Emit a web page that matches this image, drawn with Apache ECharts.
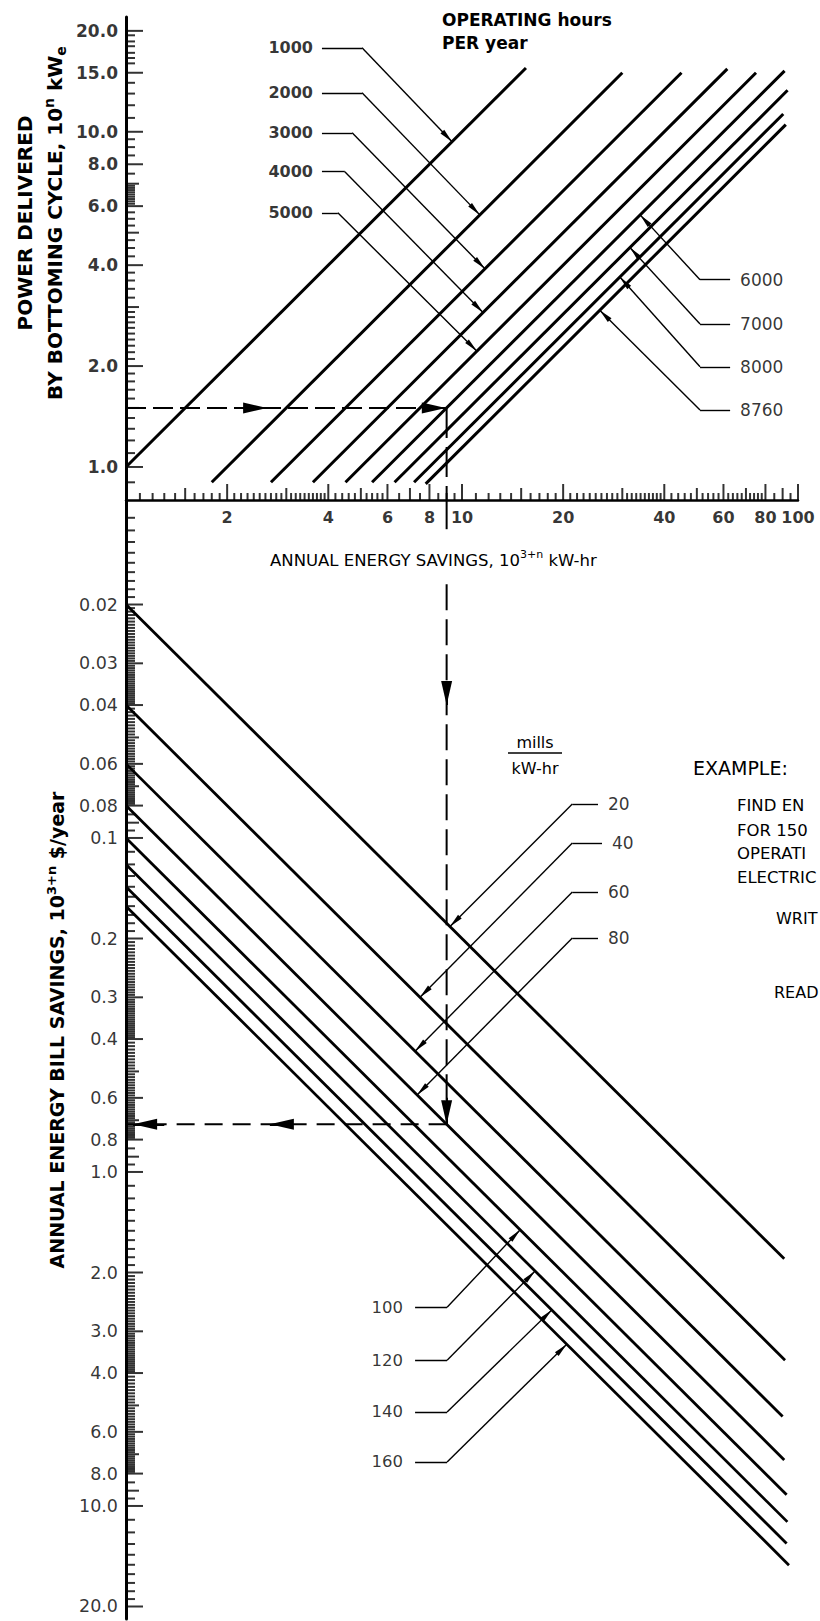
<!DOCTYPE html>
<html>
<head>
<meta charset="utf-8">
<title>Bottoming cycle energy savings nomogram</title>
<script src="https://cdn.jsdelivr.net/npm/echarts@6.0.0/dist/echarts.min.js"></script>
<style>
  html, body { margin: 0; padding: 0; background: #fff; }
  #chart { width: 820px; height: 1621px; }
</style>
</head>
<body>
<div id="chart"></div>
<script>
// Operating-hours lines: annual energy (10^(3+n) kW-hr) = power (10^n kWe) x hours / 1000
const hoursPerYear = [1000, 2000, 3000, 4000, 5000, 6000, 7000, 8000, 8760];
const powerFrom = [1.0, 0.9, 0.9, 0.9, 0.9, 0.9, 0.9, 0.9, 0.89];
const powerTo = [15.5, 15.0, 15.0, 15.4, 15.0, 15.2, 13.3, 11.3, 10.5];

// Electricity-rate lines: bill savings (10^(3+n) $/yr) = energy x mills / 1000
const millsPerKwh = [20, 40, 60, 80, 100, 120, 140, 160];
const energyFrom = [1, 1, 1, 1, 1, 1, 1, 1];
const energyTo = [91, 91.5, 90, 91, 92.5, 93, 92.5, 94];

// Worked example: 150 kWe, 6000 h/yr, 80 mills/kW-hr
const examplePower = 1.5;
const exampleHours = 6000;
const exampleRate = 80;

// Scale ranges
const energyRange = [1, 100];
const powerRange = [0.797, 22.0];
const billRange = [0.00973, 21.8];

// Labelled ticks
const powerTickValues = [1, 2, 4, 6, 8, 10, 15, 20];
const powerTickLabels = ['1.0', '2.0', '4.0', '6.0', '8.0', '10.0', '15.0', '20.0'];
const powerMidTicks = [1.5, 3, 5, 7];

const energyTickValues = [2, 4, 6, 8, 10, 20, 40, 60, 80, 100];
const energyTickLabels = ['2', '4', '6', '8', '10', '20', '40', '60', '80', '100'];
const energyMidTicks = [1.5, 3, 5, 7, 15, 30, 50, 70, 90];

const billTickValues = [0.02, 0.03, 0.04, 0.06, 0.08, 0.1, 0.2, 0.3, 0.4, 0.6, 0.8, 1, 2, 3, 4, 6, 8, 10, 20];
const billTickLabels = ['0.02', '0.03', '0.04', '0.06', '0.08', '0.1', '0.2', '0.3', '0.4', '0.6', '0.8', '1.0', '2.0', '3.0', '4.0', '6.0', '8.0', '10.0', '20.0'];
const billMidTicks = [0.05, 0.07, 0.09, 0.5, 0.7, 0.9, 5, 7, 9];

// ---------------------------------------------------------------------------
function stepsBetween(from, to, step) {
  const out = [];
  for (let v = from + step; v < to - step / 2; v += step) out.push(+v.toPrecision(6));
  return out;
}
function without(values, exclude) {
  return values.filter(v => !exclude.some(e => Math.abs(e - v) < e * 1e-6));
}

// unlabelled graduations of the three scales
const powerMinorTicks = without([].concat(
  [0.9], stepsBetween(1, 2, 0.1), stepsBetween(2, 3, 0.1), stepsBetween(3, 4, 0.2),
  stepsBetween(4, 6, 0.25), stepsBetween(6, 7, 0.1), [7.5], stepsBetween(8, 10, 0.5),
  stepsBetween(10, 15, 1), [16, 16.6, 17.2, 18, 18.6, 19.4]
), powerTickValues.concat(powerMidTicks));

const energyMinorTicks = without([].concat(
  stepsBetween(1, 2, 0.1), stepsBetween(2, 4, 0.1), stepsBetween(4, 6, 0.2), stepsBetween(6, 10, 0.5),
  stepsBetween(10, 20, 1), stepsBetween(20, 40, 1), stepsBetween(40, 60, 2), stepsBetween(60, 80, 2),
  stepsBetween(80, 100, 5)
), energyTickValues.concat(energyMidTicks));

const billDecadeMantissas = [].concat(
  stepsBetween(1, 2, 0.1), stepsBetween(2, 4, 0.05), stepsBetween(4, 6, 0.1), stepsBetween(6, 8, 0.1), [8.5, 9.5]);
const billMinorTicks = without(
  [0.01, 0.1, 1, 10]
    .flatMap(d => billDecadeMantissas.map(m => +(m * d).toPrecision(6)))
    .filter(v => v > billRange[0] && v < 20),
  billTickValues.concat(billMidTicks));

// Callout leaders: stub from the label end to an elbow, then an arrow to the line
const hoursCallouts = [
  { from: 3.83, elbow: 5.04, level: 17.8, hit: 9.34 },
  { from: 3.83, elbow: 5.04, level: 13.07, hit: 11.3 },
  { from: 3.83, elbow: 4.71, level: 9.93, hit: 11.7 },
  { from: 3.83, elbow: 4.48, level: 7.6, hit: 11.55 },
  { from: 3.83, elbow: 4.27, level: 5.73, hit: 11.08 },
  { from: 62.8, elbow: 51.1, level: 3.62, hit: 33.9 },
  { from: 62.8, elbow: 51.1, level: 2.67, hit: 31.6 },
  { from: 62.8, elbow: 51.1, level: 1.99, hit: 29.5 },
  { from: 62.8, elbow: 51.1, level: 1.48, hit: 25.7 }
];
const rateCallouts = [
  { from: 25.4, elbow: 21.3, level: 0.0791, hit: 9.21 },
  { from: 26.1, elbow: 21.3, level: 0.1035, hit: 7.5 },
  { from: 25.4, elbow: 21.3, level: 0.1451, hit: 7.25 },
  { from: 25.4, elbow: 21.3, level: 0.1993, hit: 7.35 },
  { from: 7.25, elbow: 9.03, level: 2.54, hit: 14.9 },
  { from: 7.25, elbow: 9.03, level: 3.66, hit: 16.5 },
  { from: 7.25, elbow: 9.03, level: 5.23, hit: 18.5 },
  { from: 7.25, elbow: 9.03, level: 7.38, hit: 20.5 }
];

// ---------------------------------------------------------------------------
const INK = '#000';
const FONT = 'DejaVu Sans';
const TICK_W = 2;
// narrow arrowheads whose tip sits at the centre of the symbol box
const ARROW = 'path://M0,0M28,28M14,14L16.6,28L11.4,28Z';
const BIG_ARROW = 'path://M0,0M48,48M24,24L29.5,48L18.5,48Z';

const energyOf = (p, h) => p * h / 1000;
const billOf = (e, r) => e * r / 1000;

function tickMarks(xi, yi, points, size, offset) {
  return {
    type: 'scatter', xAxisIndex: xi, yAxisIndex: yi, silent: true, clip: false, z: 4,
    symbol: 'rect', symbolSize: size, symbolOffset: offset,
    itemStyle: { color: INK }, data: points
  };
}
function textMarks(xi, yi, points, texts, position, distance, font) {
  return {
    type: 'scatter', xAxisIndex: xi, yAxisIndex: yi, silent: true, clip: false, z: 5,
    symbol: 'rect', symbolSize: 0.01, itemStyle: { color: 'rgba(0,0,0,0)' },
    data: points.map((p, i) => ({ value: p, label: { formatter: texts[i] } })),
    label: Object.assign({ show: true, position: position, distance: distance, color: INK, fontFamily: FONT }, font)
  };
}
function yTicks(yi, values, len) {
  return tickMarks(yi, yi, values.map(v => [energyRange[0], v]), [len, TICK_W], [len / 2, 0]);
}
function xTicks(values, len) {
  return tickMarks(0, 0, values.map(v => [v, powerRange[0]]), [TICK_W, len], [0, -len / 2]);
}
function plainLine(xi, yi, data, width, dash) {
  return {
    type: 'line', xAxisIndex: xi, yAxisIndex: yi, data: data, symbol: 'none', showSymbol: false,
    clip: false, silent: true, z: 2,
    lineStyle: { color: INK, width: width, type: dash || 'solid', cap: 'butt' }
  };
}
function segments(xi, yi, list, width, endSymbol, endSize) {
  return {
    type: 'lines', coordinateSystem: 'cartesian2d', xAxisIndex: xi, yAxisIndex: yi,
    silent: true, clip: false, z: 3,
    symbol: ['none', endSymbol || 'none'], symbolSize: endSize || 10,
    lineStyle: { color: INK, width: width, opacity: 1, curveness: 0 },
    data: list.map(c => ({ coords: c }))
  };
}

const series = [];

// operating-hours lines (upper panel)
hoursPerYear.forEach((h, i) => {
  series.push(plainLine(0, 0, [powerFrom[i], powerTo[i]].map(p => [energyOf(p, h), p]), 3));
});
// electricity-rate lines (lower panel)
millsPerKwh.forEach((r, i) => {
  series.push(plainLine(1, 1, [energyFrom[i], energyTo[i]].map(e => [e, billOf(e, r)]), 2.8));
});

// scale graduations
series.push(yTicks(0, powerTickValues, 17), yTicks(0, powerMidTicks, 13), yTicks(0, powerMinorTicks, 9));
series.push(xTicks(energyTickValues, 16), xTicks(energyMidTicks, 12), xTicks(energyMinorTicks, 7));
series.push(yTicks(1, billTickValues, 17), yTicks(1, billMidTicks, 13), yTicks(1, billMinorTicks, 9));

// scale numbers
series.push(textMarks(0, 0, powerTickValues.map(v => [energyRange[0], v]), powerTickLabels, 'left', 8,
  { fontWeight: 'bold', fontSize: 17 }));
series.push(textMarks(0, 0, energyTickValues.map(v => [v, powerRange[0]]), energyTickLabels, 'bottom', 9,
  { fontWeight: 'bold', fontSize: 16 }));
series.push(textMarks(1, 1, billTickValues.map(v => [energyRange[0], v]), billTickLabels, 'left', 8,
  { fontWeight: 'normal', fontSize: 17.5 }));

// hours callouts
series.push(segments(0, 0, hoursCallouts.map(c => [[c.from, c.level], [c.elbow, c.level]]), 1.4));
series.push(segments(0, 0, hoursCallouts.map((c, i) => [[c.elbow, c.level], [c.hit, c.hit * 1000 / hoursPerYear[i]]]),
  1.4, ARROW, 28));
series.push(textMarks(0, 0, hoursCallouts.slice(0, 5).map(c => [c.from, c.level]),
  hoursPerYear.slice(0, 5).map(String), 'left', 9, { fontWeight: 'bold', fontSize: 16 }));
series.push(textMarks(0, 0, hoursCallouts.slice(5).map(c => [c.from, c.level]),
  hoursPerYear.slice(5).map(String), 'right', 10, { fontWeight: 'normal', fontSize: 17 }));

// rate callouts
series.push(segments(1, 1, rateCallouts.map(c => [[c.from, c.level], [c.elbow, c.level]]), 1.4));
series.push(segments(1, 1, rateCallouts.map((c, i) => [[c.elbow, c.level], [c.hit, billOf(c.hit, millsPerKwh[i])]]),
  1.4, ARROW, 28));
series.push(textMarks(1, 1, rateCallouts.slice(0, 4).map(c => [c.from, c.level]),
  millsPerKwh.slice(0, 4).map(String), 'right', 10, { fontWeight: 'normal', fontSize: 17 }));
series.push(textMarks(1, 1, rateCallouts.slice(4).map(c => [c.from, c.level]),
  millsPerKwh.slice(4).map(String), 'left', 12, { fontWeight: 'normal', fontSize: 16.5 }));

// worked example path
const exEnergy = energyOf(examplePower, exampleHours);
const exBill = billOf(exEnergy, exampleRate);
series.push(plainLine(0, 0, [[energyRange[0], examplePower], [exEnergy, examplePower]], 2, [20, 7]));
series.push(plainLine(0, 0, [[exEnergy, examplePower], [exEnergy, powerRange[0]]], 2, [30, 9]));
series.push(plainLine(1, 1, [[exEnergy, billRange[0]], [exEnergy, 0.0119]], 2));
series.push(plainLine(1, 1, [[exEnergy, 0.0174], [exEnergy, exBill]], 2, [26, 9]));
series.push(plainLine(1, 1, [[exEnergy, exBill], [energyRange[0], exBill]], 2, [18, 10]));
series.push(segments(0, 0, [
  [[2.3, examplePower], [2.63, examplePower]],
  [[8.0, examplePower], [8.95, examplePower]]
], 2, BIG_ARROW, 48));
series.push(segments(1, 1, [
  [[exEnergy, 0.034], [exEnergy, 0.04]],
  [[exEnergy, 0.6], [exEnergy, exBill]],
  [[3.0, exBill], [2.68, exBill]],
  [[1.3, exBill], [1.05, exBill]]
], 2, BIG_ARROW, 48));

// ---------------------------------------------------------------------------
function text(x, y, content, style, rotation) {
  return {
    type: 'text', x: x, y: y, rotation: rotation || 0, silent: true, z: 10,
    style: Object.assign({
      text: content, fill: INK, align: 'left', verticalAlign: 'middle',
      textAlign: 'left', textVerticalAlign: 'middle',
      fontFamily: FONT, fontSize: 18, fontWeight: 'normal'
    }, style)
  };
}
function titleRich(size, weight) {
  return {
    m: { fontFamily: FONT, fontSize: size, fontWeight: weight, lineHeight: size + 6 },
    up: { fontFamily: FONT, fontSize: Math.round(size * 0.68), fontWeight: weight, verticalAlign: 'top' },
    dn: { fontFamily: FONT, fontSize: Math.round(size * 0.68), fontWeight: weight, verticalAlign: 'bottom' }
  };
}
const centred = { align: 'center', textAlign: 'center' };

const graphic = [
  text(25, 223, 'POWER DELIVERED', Object.assign({ fontSize: 20, fontWeight: 'bold' }, centred), Math.PI / 2),
  text(55, 223, '{m|BY BOTTOMING CYCLE, 10}{up|n}{m| kW}{dn|e}',
    Object.assign({ rich: titleRich(20, 'bold') }, centred), Math.PI / 2),
  text(57, 1030, '{m|ANNUAL ENERGY BILL SAVINGS, 10}{up|3+n}{m| $/year}',
    Object.assign({ rich: titleRich(19, 'bold') }, centred), Math.PI / 2),
  text(270, 560, '{m|ANNUAL ENERGY SAVINGS, 10}{up|3+n}{m| kW-hr}', { rich: titleRich(16.5, 'normal') }),
  text(442, 20, 'OPERATING hours', { fontSize: 17, fontWeight: 'bold' }),
  text(442, 43, 'PER year', { fontSize: 17, fontWeight: 'bold' }),
  text(535, 742, 'mills', Object.assign({ fontSize: 16 }, centred)),
  text(535, 768, 'kW-hr', Object.assign({ fontSize: 16 }, centred)),
  { type: 'line', silent: true, shape: { x1: 508, y1: 753, x2: 562, y2: 753 }, style: { stroke: INK, lineWidth: 1.5 } },
  text(693, 768, 'EXAMPLE:', { fontSize: 19 }),
  text(737, 805, 'FIND EN', { fontSize: 16.5 }),
  text(737, 830, 'FOR 150', { fontSize: 16.5 }),
  text(737, 853, 'OPERATI', { fontSize: 16.5 }),
  text(737, 877, 'ELECTRIC', { fontSize: 16.5 }),
  text(776, 918, 'WRIT', { fontSize: 16 }),
  text(774, 992, 'READ', { fontSize: 16 })
];

// ---------------------------------------------------------------------------
const hiddenAxisParts = {
  axisTick: { show: false }, axisLabel: { show: false }, splitLine: { show: false },
  minorTick: { show: false }, minorSplitLine: { show: false }
};
const chart = echarts.init(document.getElementById('chart'), null, { renderer: 'svg' });
chart.setOption({
  animation: false,
  backgroundColor: '#fff',
  textStyle: { fontFamily: FONT },
  grid: [
    { left: 126, top: 17, width: 672, height: 483 },
    { left: 126, top: 500, width: 672, height: 1119 }
  ],
  xAxis: [
    Object.assign({ gridIndex: 0, type: 'log', logBase: 10, min: energyRange[0], max: energyRange[1],
      axisLine: { show: true, onZero: false, lineStyle: { color: INK, width: 2.5 } } }, hiddenAxisParts),
    Object.assign({ gridIndex: 1, type: 'log', logBase: 10, min: energyRange[0], max: energyRange[1],
      show: false }, hiddenAxisParts)
  ],
  yAxis: [
    Object.assign({ gridIndex: 0, type: 'log', logBase: 10, min: powerRange[0], max: powerRange[1],
      axisLine: { show: true, onZero: false, lineStyle: { color: INK, width: 3 } } }, hiddenAxisParts),
    Object.assign({ gridIndex: 1, type: 'log', logBase: 10, min: billRange[0], max: billRange[1], inverse: true,
      axisLine: { show: true, onZero: false, lineStyle: { color: INK, width: 3 } } }, hiddenAxisParts)
  ],
  series: series,
  graphic: graphic
});
</script>
</body>
</html>
